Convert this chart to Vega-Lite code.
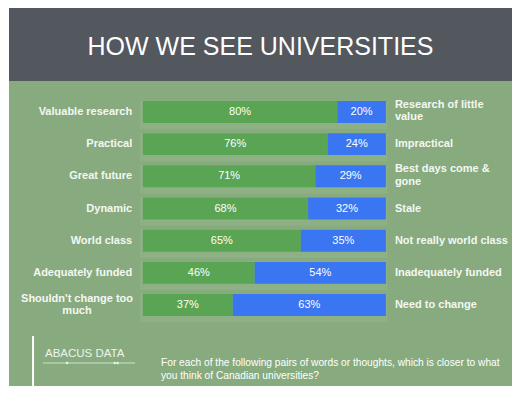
{
  "$schema": "https://vega.github.io/schema/vega-lite/v6.json",
  "background": "white",
  "padding": {"left": 9, "top": 8, "right": 18, "bottom": 11},
  "spacing": 0,
  "bounds": "flush",
  "config": {"view": {"stroke": null}, "font": "Liberation Sans", "text": {"font": "Liberation Sans"}, "axis": {"domain": false, "grid": false, "ticks": false, "labels": false, "title": null}},
  "datasets": {
    "rows": [
      {"left": "Valuable research", "right": "Research of little\nvalue", "agree": 80, "disagree": 20},
      {"left": "Practical", "right": "Impractical", "agree": 76, "disagree": 24},
      {"left": "Great future", "right": "Best days come &\ngone", "agree": 71, "disagree": 29},
      {"left": "Dynamic", "right": "Stale", "agree": 68, "disagree": 32},
      {"left": "World class", "right": "Not really world class", "agree": 65, "disagree": 35},
      {"left": "Adequately funded", "right": "Inadequately funded", "agree": 46, "disagree": 54},
      {"left": "Shouldn't change too\nmuch", "right": "Need to change", "agree": 37, "disagree": 63}
    ]
  },
  "vconcat": [
    {
      "width": 503,
      "height": 73,
      "view": {"fill": "#53575e", "stroke": null},
      "data": {"values": [{"title": "HOW WE SEE UNIVERSITIES"}]},
      "mark": {"type": "text", "fontSize": 25, "color": "#ffffff", "dy": 2},
      "encoding": {"text": {"field": "title"}}
    },
    {
      "width": 503,
      "height": 255,
      "view": {"fill": "#87ab7f", "stroke": null},
      "data": {"name": "rows"},
      "encoding": {
        "y": {"field": "left", "type": "nominal", "sort": null, "axis": null, "scale": {"paddingInner": 0.317, "paddingOuter": 0.62}}
      },
      "layer": [
        {
          "mark": {"type": "bar", "color": "#8db185", "height": {"band": 1.3}, "yOffset": 3},
          "encoding": {
            "x": {"datum": -1.2, "type": "quantitative", "scale": {"domain": [-55.1, 151.9], "nice": false, "zero": false}, "axis": null},
            "x2": {"datum": 100.6}
          }
        },
        {
          "transform": [
            {"fold": ["agree", "disagree"], "as": ["side", "pct"]},
            {"stack": "pct", "groupby": ["left"], "sort": [{"field": "side"}], "as": ["p0", "p1"]},
            {"calculate": "(datum.p0 + datum.p1) / 2", "as": "mid"},
            {"calculate": "datum.pct + '%'", "as": "lab"}
          ],
          "layer": [
            {
              "mark": {"type": "bar"},
              "encoding": {
                "x": {"field": "p0", "type": "quantitative", "axis": null},
                "x2": {"field": "p1"},
                "color": {"field": "side", "type": "nominal", "scale": {"domain": ["agree", "disagree"], "range": ["#5aa554", "#3a75f2"]}, "legend": null}
              }
            },
            {
              "mark": {"type": "text", "color": "#ffffff", "fontSize": 11},
              "encoding": {
                "x": {"field": "mid", "type": "quantitative", "axis": null},
                "text": {"field": "lab"}
              }
            }
          ]
        },
        {
          "transform": [{"filter": "indexof(datum.left, '\\n') < 0"}],
          "mark": {"type": "text", "align": "right", "fontWeight": "bold", "fontSize": 11, "color": "#f4f7f2", "lineBreak": "\n", "lineHeight": 12.5},
          "encoding": {"x": {"datum": -4.4, "type": "quantitative", "axis": null}, "text": {"field": "left"}}
        },
        {
          "transform": [{"filter": "indexof(datum.left, '\\n') >= 0"}],
          "mark": {"type": "text", "align": "center", "fontWeight": "bold", "fontSize": 11, "color": "#f4f7f2", "lineBreak": "\n", "lineHeight": 12.5, "dy": -6.5},
          "encoding": {"x": {"datum": -27.1, "type": "quantitative", "axis": null}, "text": {"field": "left"}}
        },
        {
          "transform": [{"filter": "indexof(datum.right, '\\n') < 0"}],
          "mark": {"type": "text", "align": "left", "fontWeight": "bold", "fontSize": 11, "color": "#f4f7f2", "lineBreak": "\n", "lineHeight": 12.5},
          "encoding": {"x": {"datum": 103.7, "type": "quantitative", "axis": null}, "text": {"field": "right"}}
        },
        {
          "transform": [{"filter": "indexof(datum.right, '\\n') >= 0"}],
          "mark": {"type": "text", "align": "left", "fontWeight": "bold", "fontSize": 11, "color": "#f4f7f2", "lineBreak": "\n", "lineHeight": 12.5, "dy": -7},
          "encoding": {"x": {"datum": 103.7, "type": "quantitative", "axis": null}, "text": {"field": "right"}}
        }
      ]
    },
    {
      "width": 503,
      "height": 50,
      "view": {"fill": "#87ab7f", "stroke": null},
      "data": {"values": [{"logo": "ABACUS DATA", "question": "For each of the following pairs of words or thoughts, which is closer to what\nyou think of Canadian universities?"}]},
      "encoding": {},
      "layer": [
        {
          "mark": {"type": "rule", "color": "#ffffff", "strokeWidth": 2},
          "encoding": {"x": {"datum": -45.2, "type": "quantitative", "scale": {"domain": [-55.1, 151.9], "nice": false, "zero": false}, "axis": null}}
        },
        {
          "mark": {"type": "rule", "color": "#e6eee3", "strokeWidth": 0.8},
          "encoding": {
            "x": {"datum": -41.1, "type": "quantitative", "axis": null},
            "x2": {"datum": -3.2},
            "y": {"datum": 27, "type": "quantitative", "scale": {"domain": [0, 50], "reverse": true, "nice": false, "zero": false}, "axis": null}
          }
        },
        {
          "mark": {"type": "point", "filled": true, "color": "#eef3ec", "size": 6, "opacity": 1},
          "encoding": {"x": {"datum": -31.2, "type": "quantitative", "axis": null}, "y": {"datum": 27, "type": "quantitative", "axis": null}}
        },
        {
          "mark": {"type": "point", "filled": true, "color": "#eef3ec", "size": 6, "opacity": 1},
          "encoding": {"x": {"datum": -11.6, "type": "quantitative", "axis": null}, "y": {"datum": 27, "type": "quantitative", "axis": null}}
        },
        {
          "mark": {"type": "point", "filled": true, "color": "#eef3ec", "size": 6, "opacity": 1},
          "encoding": {"x": {"datum": -10.4, "type": "quantitative", "axis": null}, "y": {"datum": 27, "type": "quantitative", "axis": null}}
        },
        {
          "mark": {"type": "text", "align": "left", "baseline": "alphabetic", "fontSize": 11.5, "color": "#eef3ec"},
          "encoding": {"x": {"datum": -40.3, "type": "quantitative", "axis": null}, "y": {"datum": 21.3, "type": "quantitative", "axis": null}, "text": {"field": "logo"}}
        },
        {
          "mark": {"type": "text", "align": "left", "baseline": "alphabetic", "fontSize": 10.2, "color": "#ffffff", "lineBreak": "\n", "lineHeight": 12.5},
          "encoding": {"x": {"datum": 7.45, "type": "quantitative", "axis": null}, "y": {"datum": 30, "type": "quantitative", "axis": null}, "text": {"field": "question"}}
        }
      ]
    }
  ]
}
